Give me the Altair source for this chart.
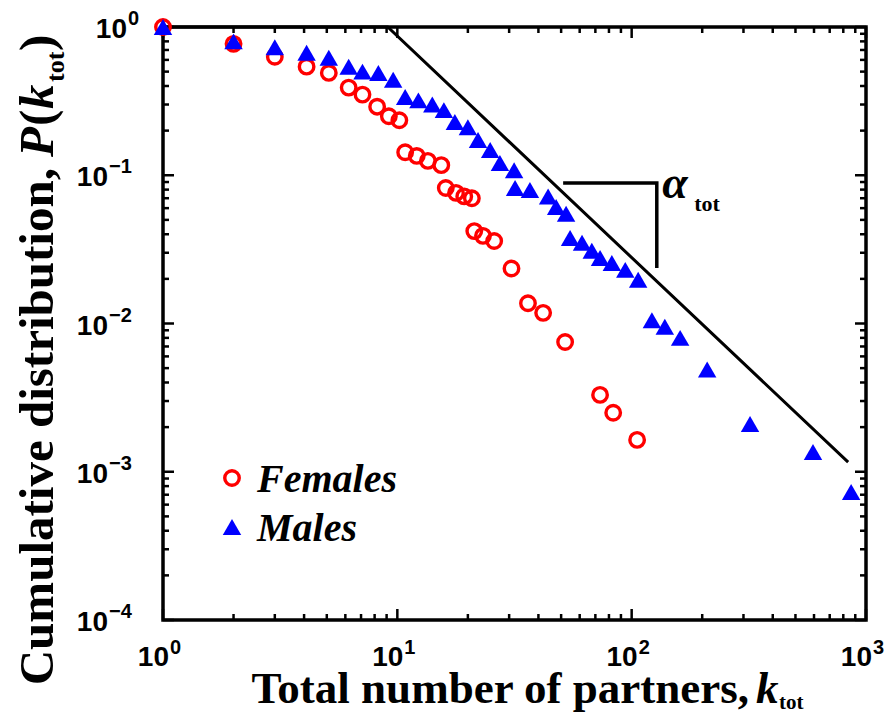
import altair as alt
import pandas as pd

# ---------------- data ----------------
fem_k = [1, 2, 3, 4.1, 5.1, 6.2, 7.1, 8.2, 9.2, 10.2, 10.8, 12.1, 13.5, 15.4,
         16.1, 17.8, 19.3, 20.8, 21.3, 23.2, 25.9, 30.7, 36.1, 41.9, 52, 73.3, 83.4, 105.5]
fem_p = [1, 0.77, 0.63, 0.54, 0.49, 0.39, 0.35, 0.29, 0.25, 0.235, 0.143, 0.135, 0.125, 0.117,
         0.082, 0.076, 0.072, 0.070, 0.042, 0.039, 0.036, 0.0235, 0.0137, 0.0118, 0.0075, 0.0033, 0.0025, 0.00164]

male_k = [1, 2, 3, 4.1, 5.1, 6.2, 7.1, 8.3, 9.6, 10.8, 12.3, 14.1, 15.8, 17.6, 20, 22.1, 24.9,
          27.4, 31.5, 31.8, 36.8, 44, 47.6, 52.5, 54.6, 61.4, 67.6, 73.3, 82.3, 93.9, 106.6,
          122, 138.5, 161, 210, 320, 594, 864]
male_p = [1, 0.80, 0.73, 0.67, 0.62, 0.54, 0.50, 0.49, 0.44, 0.337, 0.32, 0.30, 0.275, 0.229, 0.211, 0.173, 0.148,
          0.121, 0.108, 0.082, 0.0795, 0.072, 0.061, 0.055, 0.0377, 0.035, 0.031, 0.0277, 0.0256, 0.023, 0.0197,
          0.0105, 0.0095, 0.0080, 0.0049, 0.0021, 0.00136, 0.00073]

fit_k = [1, 9.1, 839]
fit_p = [1, 1, 0.00116]

slope_k = [51, 128, 128]
slope_p = [0.0886, 0.0886, 0.0237]

alpha_k, alpha_p = [135], [0.0873]
tot_k, tot_p = [185], [0.064]

x_major = [1, 10, 100, 1000]
x_exp = ["0", "1", "2", "3"]
y_major = [1, 0.1, 0.01, 0.001, 0.0001]
y_exp = ["0", "−1", "−2", "−3", "−4"]
x_minor = [m * 10 ** e for e in range(0, 3) for m in range(2, 10)]
y_minor = [m * 10.0 ** e for e in range(-4, 0) for m in range(2, 10)]

series_names = ["Females", "Males"]

# ---------------- layout ----------------
W, H = 703, 593
SERIF = "Liberation Serif"
SANS = "Liberation Sans"

x_scale = alt.Scale(type="log", domain=[1, 1000], nice=False)
y_scale = alt.Scale(type="log", domain=[1e-4, 1], nice=False)


def X(f):
    return alt.X(f, type="quantitative", scale=x_scale, axis=None)


def Y(f):
    return alt.Y(f, type="quantitative", scale=y_scale, axis=None)


fem_df = pd.DataFrame({"k": fem_k, "P": fem_p})
male_df = pd.DataFrame({"k": male_k, "P": male_p})
fit_df = pd.DataFrame({"k": fit_k, "P": fit_p})
slope_df = pd.DataFrame({"k": slope_k, "P": slope_p, "o": [0, 1, 2]})

females = alt.Chart(fem_df).mark_point(shape="circle", size=210, strokeWidth=3.4,
                                       color="#ff0000", filled=False, opacity=1).encode(x=X("k"), y=Y("P"))
males = alt.Chart(male_df).mark_point(shape="triangle-up", size=340, color="#0000ff",
                                      filled=True, opacity=1).encode(x=X("k"), y=Y("P"))

fit = alt.Chart(fit_df).mark_line(color="black", strokeWidth=3).encode(x=X("k"), y=Y("P"))
slope = alt.Chart(slope_df).mark_line(color="black", strokeWidth=3.5).encode(
    x=X("k"), y=Y("P"), order="o:Q")

alpha_txt = alt.Chart(pd.DataFrame({"k": alpha_k, "P": alpha_p, "t": ["α"]})).mark_text(
    font=SERIF, fontStyle="italic", fontWeight="bold", fontSize=46, align="left",
    baseline="middle", color="black").encode(x=X("k"), y=Y("P"), text="t:N")
tot_txt = alt.Chart(pd.DataFrame({"k": tot_k, "P": tot_p, "t": ["tot"]})).mark_text(
    font=SERIF, fontWeight="bold", fontSize=22, align="left", baseline="middle",
    color="black").encode(x=X("k"), y=Y("P"), text="t:N")

# inward ticks on all four sides
xmaj = pd.DataFrame({"v": x_major})
xmin = pd.DataFrame({"v": x_minor})
ymaj = pd.DataFrame({"v": y_major})
ymin = pd.DataFrame({"v": y_minor})
TW = 2.5
ticks = []
for d, L in [(xmaj, 11), (xmin, 6)]:
    ticks.append(alt.Chart(d).mark_rule(color="black", strokeWidth=TW).encode(
        x=X("v"), y=alt.value(H), y2=alt.value(H - L)))
    ticks.append(alt.Chart(d).mark_rule(color="black", strokeWidth=TW).encode(
        x=X("v"), y=alt.value(0), y2=alt.value(L)))
for d, L in [(ymaj, 11), (ymin, 6)]:
    ticks.append(alt.Chart(d).mark_rule(color="black", strokeWidth=TW).encode(
        y=Y("v"), x=alt.value(0), x2=alt.value(L)))
    ticks.append(alt.Chart(d).mark_rule(color="black", strokeWidth=TW).encode(
        y=Y("v"), x=alt.value(W), x2=alt.value(W - L)))

# tick labels: "10" with a raised exponent
LBL = 28
EXP = 20
xlab = pd.DataFrame({"v": x_major, "b": ["10"] * len(x_major), "e": x_exp})
ylab = pd.DataFrame({"v": y_major, "b": ["10"] * len(y_major), "e": y_exp})

XLY = H + 38
xl_base = alt.Chart(xlab).mark_text(font=SANS, fontWeight="bold", fontSize=LBL, align="right",
                                    baseline="middle", dx=6, color="black").encode(
    x=X("v"), y=alt.value(XLY), text="b:N")
xl_exp = alt.Chart(xlab).mark_text(font=SANS, fontWeight="bold", fontSize=EXP, align="left",
                                   baseline="middle", dx=7, dy=-10, color="black").encode(
    x=X("v"), y=alt.value(XLY), text="e:N")


def ylabels(sub, xpos):
    base = alt.Chart(sub).mark_text(font=SANS, fontWeight="bold", fontSize=LBL, align="right",
                                    baseline="middle", dy=3, color="black").encode(
        x=alt.value(xpos), y=Y("v"), text="b:N")
    exp = alt.Chart(sub).mark_text(font=SANS, fontWeight="bold", fontSize=EXP, align="left",
                                   baseline="middle", dx=1, dy=-8, color="black").encode(
        x=alt.value(xpos), y=Y("v"), text="e:N")
    return [base, exp]


yl = ylabels(ylab.iloc[[0]], -36) + ylabels(ylab.iloc[1:], -55)

# legend (manual)
leg_df = pd.DataFrame({"name": series_names})
leg_f_sym = alt.Chart(leg_df.iloc[[0]]).mark_point(shape="circle", size=210, strokeWidth=3.4,
                                                   color="#ff0000", filled=False, opacity=1).encode(
    x=alt.value(69), y=alt.value(451))
leg_m_sym = alt.Chart(leg_df.iloc[[1]]).mark_point(shape="triangle-up", size=340, color="#0000ff",
                                                   filled=True, opacity=1).encode(
    x=alt.value(69), y=alt.value(500))
LEGF = 40
leg_f_txt = alt.Chart(leg_df.iloc[[0]]).mark_text(font=SERIF, fontStyle="italic", fontWeight="bold",
                                                  fontSize=LEGF, align="left", baseline="alphabetic",
                                                  color="black").encode(
    x=alt.value(94), y=alt.value(465), text="name:N")
leg_m_txt = alt.Chart(leg_df.iloc[[1]]).mark_text(font=SERIF, fontStyle="italic", fontWeight="bold",
                                                  fontSize=LEGF, align="left", baseline="alphabetic",
                                                  color="black").encode(
    x=alt.value(94), y=alt.value(514), text="name:N")


# axis titles (as text marks so that italics / subscripts can be shown)
def txt(s, x, y, size, style="normal", align="left", angle=0, baseline="alphabetic"):
    return alt.Chart(pd.DataFrame({"t": [s]})).mark_text(
        font=SERIF, fontWeight="bold", fontStyle=style, fontSize=size, align=align,
        baseline=baseline, angle=angle, color="black").encode(
        x=alt.value(x), y=alt.value(y), text="t:N")


XTS = 45
xt_main = txt("Total number of partners,", 586, 676, XTS, align="right")
xt_k = txt("k", 593, 676, XTS, style="italic")
xt_tot = txt("tot", 616, 682, 21)

YTS = 49
YB = -110  # baseline x of rotated y title
yt_main = txt("Cumulative distribution,", YB, 141, YTS, align="right", angle=270)
yt_P = txt("P", YB, 130, YTS, style="italic", angle=270)
yt_paren1 = txt("(", YB, 99, YTS, angle=270)
yt_k = txt("k", YB, 82, YTS, style="italic", angle=270)
yt_tot = txt("tot", YB + 11, 55, 26, angle=270)
yt_paren2 = txt(")", YB, 24, YTS, angle=270)

chart = alt.layer(
    *ticks, fit, slope, alpha_txt, tot_txt, females, males,
    leg_f_sym, leg_m_sym, leg_f_txt, leg_m_txt,
    xl_base, xl_exp, *yl,
    xt_main, xt_k, xt_tot, yt_main, yt_P, yt_paren1, yt_k, yt_tot, yt_paren2,
).properties(
    width=W, height=H, autosize="none",
    padding={"left": 155, "top": 19, "right": 20, "bottom": 94},
).configure_view(stroke="black", strokeWidth=3.5)

chart.save("out.html", embed_options={"renderer": "svg", "actions": False})
